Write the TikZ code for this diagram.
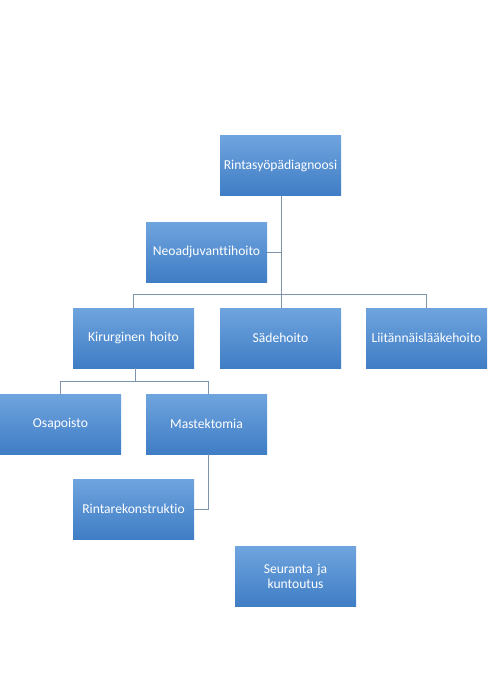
\documentclass[tikz,border=0pt]{standalone}
\usepackage{fontspec}
\setmainfont[Ligatures=NoCommon]{Carlito}
\begin{document}
\begin{tikzpicture}[x=1pt,y=-1pt,
  box/.style={rectangle,minimum width=121pt,minimum height=60pt,inner sep=1pt,
    top color=boxtop,bottom color=boxbot,draw=none,text=white,font=\fontsize{13.6}{15.5}\selectfont,align=center,text width=119pt},
  conn/.style={draw=linecol,line width=0.9pt}]
\definecolor{boxtop}{HTML}{6FA4DE}
\definecolor{boxbot}{HTML}{3F7DC5}
\definecolor{linecol}{HTML}{7E93AC}
\useasboundingbox (0,0) rectangle (492,676);
\node[box] (diag) at (280.5,165.5) {Rintasyöpädiagnoosi};
\node[box] (neo) at (206.5,252) {Neoadjuvanttihoito};
\node[box] (kir) at (133.5,338) {Kirurginen hoito};
\node[box] (sade) at (280.5,338) {Sädehoito};
\node[box] (lii) at (426.5,338) {Liitännäislääkehoito};
\node[box] (osa) at (60.5,424) {Osapoisto};
\node[box] (mas) at (206.5,424) {Mastektomia};
\node[box] (rek) at (133.5,509) {Rintarekonstruktio};
\node[box] (seu) at (295.5,576.5) {Seuranta ja\\kuntoutus};
\coordinate (bus) at (281.5,294.5);
\coordinate (sub) at (135,381);
\draw[conn] (diag.south -| bus) -- (bus);
\draw[conn] (neo.east) -- (neo.east -| bus);
\draw[conn] (bus) -| (kir.north);
\draw[conn] (bus) -- (sade.north -| bus);
\draw[conn] (bus) -| (lii.north);
\draw[conn] (kir.south -| sub) -- (sub);
\draw[conn] (sub) -| (osa.north);
\draw[conn] (sub) -| ([xshift=1.5pt]mas.north);
\draw[conn] ([xshift=1.5pt]mas.south) |- (rek.east);
\end{tikzpicture}
\end{document}
